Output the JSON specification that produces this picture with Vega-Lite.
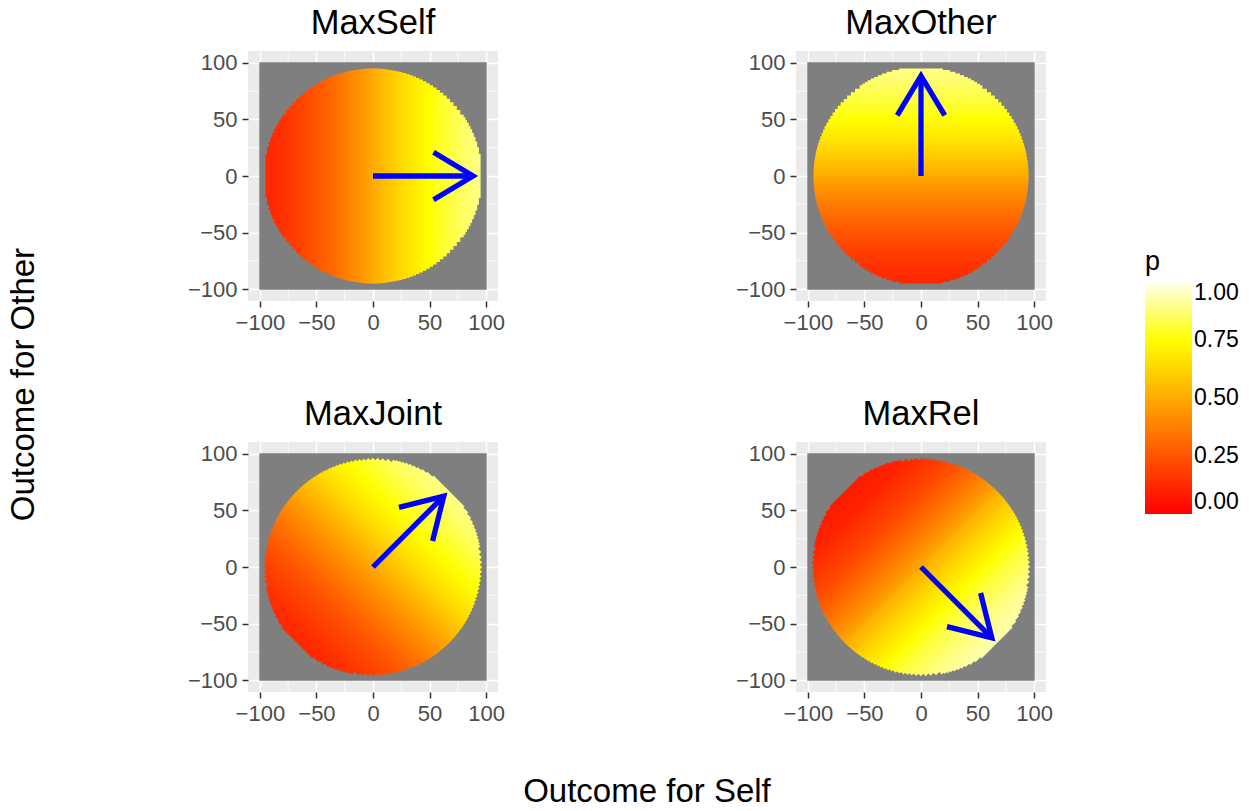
{
  "$schema": "https://vega.github.io/schema/vega-lite/v6.json",
  "padding": {"left": 8, "top": 6, "right": 8, "bottom": 4},
  "title": {"text": "Outcome for Other", "orient": "left", "anchor": "middle", "frame": "bounds", "fontSize": 33, "offset": 146, "dx": 23},
  "datasets": {
    "minor": [{"v": -75}, {"v": -25}, {"v": 25}, {"v": 75}],
    "frame": [{"x": -100.5, "y": -100.5, "x2": 100.5, "y2": 100.5}],
    "axisChords": [
      {"t": 0, "lo": -95, "hi": 95, "p": 0.5},
      {"t": 3, "lo": -94.95, "hi": 94.95, "p": 0.516}, {"t": -3, "lo": -94.95, "hi": 94.95, "p": 0.484},
      {"t": 6, "lo": -94.81, "hi": 94.81, "p": 0.533}, {"t": -6, "lo": -94.81, "hi": 94.81, "p": 0.467},
      {"t": 9, "lo": -94.57, "hi": 94.57, "p": 0.549}, {"t": -9, "lo": -94.57, "hi": 94.57, "p": 0.451},
      {"t": 12, "lo": -94.24, "hi": 94.24, "p": 0.565}, {"t": -12, "lo": -94.24, "hi": 94.24, "p": 0.435},
      {"t": 15, "lo": -93.81, "hi": 93.81, "p": 0.581}, {"t": -15, "lo": -93.81, "hi": 93.81, "p": 0.419},
      {"t": 18, "lo": -93.28, "hi": 93.28, "p": 0.597}, {"t": -18, "lo": -93.28, "hi": 93.28, "p": 0.403},
      {"t": 21, "lo": -92.65, "hi": 92.65, "p": 0.612}, {"t": -21, "lo": -92.65, "hi": 92.65, "p": 0.388},
      {"t": 24, "lo": -91.92, "hi": 91.92, "p": 0.628}, {"t": -24, "lo": -91.92, "hi": 91.92, "p": 0.372},
      {"t": 27, "lo": -91.08, "hi": 91.08, "p": 0.643}, {"t": -27, "lo": -91.08, "hi": 91.08, "p": 0.357},
      {"t": 30, "lo": -90.14, "hi": 90.14, "p": 0.658}, {"t": -30, "lo": -90.14, "hi": 90.14, "p": 0.342},
      {"t": 33, "lo": -89.08, "hi": 89.08, "p": 0.672}, {"t": -33, "lo": -89.08, "hi": 89.08, "p": 0.328},
      {"t": 36, "lo": -87.91, "hi": 87.91, "p": 0.686}, {"t": -36, "lo": -87.91, "hi": 87.91, "p": 0.314},
      {"t": 39, "lo": -86.63, "hi": 86.63, "p": 0.7}, {"t": -39, "lo": -86.63, "hi": 86.63, "p": 0.3},
      {"t": 42, "lo": -85.21, "hi": 85.21, "p": 0.714}, {"t": -42, "lo": -85.21, "hi": 85.21, "p": 0.286},
      {"t": 45, "lo": -83.67, "hi": 83.67, "p": 0.727}, {"t": -45, "lo": -83.67, "hi": 83.67, "p": 0.273},
      {"t": 48, "lo": -81.98, "hi": 81.98, "p": 0.74}, {"t": -48, "lo": -81.98, "hi": 81.98, "p": 0.26},
      {"t": 51, "lo": -80.15, "hi": 80.15, "p": 0.752}, {"t": -51, "lo": -80.15, "hi": 80.15, "p": 0.248},
      {"t": 54, "lo": -78.16, "hi": 78.16, "p": 0.764}, {"t": -54, "lo": -78.16, "hi": 78.16, "p": 0.236},
      {"t": 57, "lo": -76, "hi": 76, "p": 0.776}, {"t": -57, "lo": -76, "hi": 76, "p": 0.224},
      {"t": 60, "lo": -73.65, "hi": 73.65, "p": 0.787}, {"t": -60, "lo": -73.65, "hi": 73.65, "p": 0.213},
      {"t": 63, "lo": -71.11, "hi": 71.11, "p": 0.797}, {"t": -63, "lo": -71.11, "hi": 71.11, "p": 0.203},
      {"t": 66, "lo": -68.33, "hi": 68.33, "p": 0.808}, {"t": -66, "lo": -68.33, "hi": 68.33, "p": 0.192},
      {"t": 69, "lo": -65.3, "hi": 65.3, "p": 0.818}, {"t": -69, "lo": -65.3, "hi": 65.3, "p": 0.182},
      {"t": 72, "lo": -61.98, "hi": 61.98, "p": 0.827}, {"t": -72, "lo": -61.98, "hi": 61.98, "p": 0.173},
      {"t": 75, "lo": -58.31, "hi": 58.31, "p": 0.836}, {"t": -75, "lo": -58.31, "hi": 58.31, "p": 0.164},
      {"t": 78, "lo": -54.23, "hi": 54.23, "p": 0.845}, {"t": -78, "lo": -54.23, "hi": 54.23, "p": 0.155},
      {"t": 79.5, "lo": -52.01, "hi": 52.01, "p": 0.849}, {"t": -79.5, "lo": -52.01, "hi": 52.01, "p": 0.151},
      {"t": 81, "lo": -49.64, "hi": 49.64, "p": 0.853}, {"t": -81, "lo": -49.64, "hi": 49.64, "p": 0.147},
      {"t": 82.5, "lo": -47.1, "hi": 47.1, "p": 0.857}, {"t": -82.5, "lo": -47.1, "hi": 47.1, "p": 0.143},
      {"t": 84, "lo": -44.37, "hi": 44.37, "p": 0.861}, {"t": -84, "lo": -44.37, "hi": 44.37, "p": 0.139},
      {"t": 85.5, "lo": -41.41, "hi": 41.41, "p": 0.865}, {"t": -85.5, "lo": -41.41, "hi": 41.41, "p": 0.135},
      {"t": 87, "lo": -38.16, "hi": 38.16, "p": 0.869}, {"t": -87, "lo": -38.16, "hi": 38.16, "p": 0.131},
      {"t": 88.5, "lo": -34.54, "hi": 34.54, "p": 0.873}, {"t": -88.5, "lo": -34.54, "hi": 34.54, "p": 0.127},
      {"t": 90, "lo": -30.41, "hi": 30.41, "p": 0.876}, {"t": -90, "lo": -30.41, "hi": 30.41, "p": 0.124},
      {"t": 91.5, "lo": -25.55, "hi": 25.55, "p": 0.88}, {"t": -91.5, "lo": -25.55, "hi": 25.55, "p": 0.12},
      {"t": 93, "lo": -19.39, "hi": 19.39, "p": 0.883}, {"t": -93, "lo": -19.39, "hi": 19.39, "p": 0.117}
    ],
    "jointChords": [
      {"x": -67.18, "y": 67.18, "x2": 67.18, "y2": -67.18, "p": 0.5},
      {"x": -65.02, "y": 69.26, "x2": 69.26, "y2": -65.02, "p": 0.516}, {"x": -69.26, "y": 65.02, "x2": 65.02, "y2": -69.26, "p": 0.484},
      {"x": -62.8, "y": 71.28, "x2": 71.28, "y2": -62.8, "p": 0.533}, {"x": -71.28, "y": 62.8, "x2": 62.8, "y2": -71.28, "p": 0.467},
      {"x": -60.51, "y": 73.24, "x2": 73.24, "y2": -60.51, "p": 0.549}, {"x": -73.24, "y": 60.51, "x2": 60.51, "y2": -73.24, "p": 0.451},
      {"x": -58.15, "y": 75.12, "x2": 75.12, "y2": -58.15, "p": 0.565}, {"x": -75.12, "y": 58.15, "x2": 58.15, "y2": -75.12, "p": 0.435},
      {"x": -55.73, "y": 76.94, "x2": 76.94, "y2": -55.73, "p": 0.581}, {"x": -76.94, "y": 55.73, "x2": 55.73, "y2": -76.94, "p": 0.419},
      {"x": -53.23, "y": 78.69, "x2": 78.69, "y2": -53.23, "p": 0.597}, {"x": -78.69, "y": 53.23, "x2": 53.23, "y2": -78.69, "p": 0.403},
      {"x": -50.66, "y": 80.36, "x2": 80.36, "y2": -50.66, "p": 0.612}, {"x": -80.36, "y": 50.66, "x2": 50.66, "y2": -80.36, "p": 0.388},
      {"x": -48.03, "y": 81.97, "x2": 81.97, "y2": -48.03, "p": 0.628}, {"x": -81.97, "y": 48.03, "x2": 48.03, "y2": -81.97, "p": 0.372},
      {"x": -45.31, "y": 83.5, "x2": 83.5, "y2": -45.31, "p": 0.643}, {"x": -83.5, "y": 45.31, "x2": 45.31, "y2": -83.5, "p": 0.357},
      {"x": -42.53, "y": 84.95, "x2": 84.95, "y2": -42.53, "p": 0.658}, {"x": -84.95, "y": 42.53, "x2": 42.53, "y2": -84.95, "p": 0.342},
      {"x": -39.65, "y": 86.32, "x2": 86.32, "y2": -39.65, "p": 0.672}, {"x": -86.32, "y": 39.65, "x2": 39.65, "y2": -86.32, "p": 0.328},
      {"x": -36.71, "y": 87.62, "x2": 87.62, "y2": -36.71, "p": 0.686}, {"x": -87.62, "y": 36.71, "x2": 36.71, "y2": -87.62, "p": 0.314},
      {"x": -33.68, "y": 88.83, "x2": 88.83, "y2": -33.68, "p": 0.7}, {"x": -88.83, "y": 33.68, "x2": 33.68, "y2": -88.83, "p": 0.3},
      {"x": -30.55, "y": 89.95, "x2": 89.95, "y2": -30.55, "p": 0.714}, {"x": -89.95, "y": 30.55, "x2": 30.55, "y2": -89.95, "p": 0.286},
      {"x": -27.34, "y": 90.98, "x2": 90.98, "y2": -27.34, "p": 0.727}, {"x": -90.98, "y": 27.34, "x2": 27.34, "y2": -90.98, "p": 0.273},
      {"x": -24.03, "y": 91.91, "x2": 91.91, "y2": -24.03, "p": 0.74}, {"x": -91.91, "y": 24.03, "x2": 24.03, "y2": -91.91, "p": 0.26},
      {"x": -20.61, "y": 92.74, "x2": 92.74, "y2": -20.61, "p": 0.752}, {"x": -92.74, "y": 20.61, "x2": 20.61, "y2": -92.74, "p": 0.248},
      {"x": -17.08, "y": 93.45, "x2": 93.45, "y2": -17.08, "p": 0.764}, {"x": -93.45, "y": 17.08, "x2": 17.08, "y2": -93.45, "p": 0.236},
      {"x": -13.44, "y": 94.05, "x2": 94.05, "y2": -13.44, "p": 0.776}, {"x": -94.05, "y": 13.44, "x2": 13.44, "y2": -94.05, "p": 0.224},
      {"x": -9.65, "y": 94.5, "x2": 94.5, "y2": -9.65, "p": 0.787}, {"x": -94.5, "y": 9.65, "x2": 9.65, "y2": -94.5, "p": 0.213},
      {"x": -5.73, "y": 94.83, "x2": 94.83, "y2": -5.73, "p": 0.797}, {"x": -94.83, "y": 5.73, "x2": 5.73, "y2": -94.83, "p": 0.203},
      {"x": -1.65, "y": 94.99, "x2": 94.99, "y2": -1.65, "p": 0.808}, {"x": -94.99, "y": 1.65, "x2": 1.65, "y2": -94.99, "p": 0.192},
      {"x": 2.62, "y": 94.97, "x2": 94.97, "y2": 2.62, "p": 0.818}, {"x": -94.97, "y": -2.62, "x2": -2.62, "y2": -94.97, "p": 0.182},
      {"x": 7.09, "y": 94.74, "x2": 94.74, "y2": 7.09, "p": 0.827}, {"x": -94.74, "y": -7.09, "x2": -7.09, "y2": -94.74, "p": 0.173},
      {"x": 11.8, "y": 94.26, "x2": 94.26, "y2": 11.8, "p": 0.836}, {"x": -94.26, "y": -11.8, "x2": -11.8, "y2": -94.26, "p": 0.164},
      {"x": 16.81, "y": 93.5, "x2": 93.5, "y2": 16.81, "p": 0.845}, {"x": -93.5, "y": -16.81, "x2": -16.81, "y2": -93.5, "p": 0.155},
      {"x": 19.44, "y": 92.99, "x2": 92.99, "y2": 19.44, "p": 0.849}, {"x": -92.99, "y": -19.44, "x2": -19.44, "y2": -92.99, "p": 0.151},
      {"x": 22.17, "y": 92.38, "x2": 92.38, "y2": 22.17, "p": 0.853}, {"x": -92.38, "y": -22.17, "x2": -22.17, "y2": -92.38, "p": 0.147},
      {"x": 25.03, "y": 91.64, "x2": 91.64, "y2": 25.03, "p": 0.857}, {"x": -91.64, "y": -25.03, "x2": -25.03, "y2": -91.64, "p": 0.143},
      {"x": 28.02, "y": 90.77, "x2": 90.77, "y2": 28.02, "p": 0.861}, {"x": -90.77, "y": -28.02, "x2": -28.02, "y2": -90.77, "p": 0.139},
      {"x": 31.18, "y": 89.74, "x2": 89.74, "y2": 31.18, "p": 0.865}, {"x": -89.74, "y": -31.18, "x2": -31.18, "y2": -89.74, "p": 0.135},
      {"x": 34.54, "y": 88.5, "x2": 88.5, "y2": 34.54, "p": 0.869}, {"x": -88.5, "y": -34.54, "x2": -34.54, "y2": -88.5, "p": 0.131},
      {"x": 38.16, "y": 87, "x2": 87, "y2": 38.16, "p": 0.873}, {"x": -87, "y": -38.16, "x2": -38.16, "y2": -87, "p": 0.127},
      {"x": 42.14, "y": 85.14, "x2": 85.14, "y2": 42.14, "p": 0.876}, {"x": -85.14, "y": -42.14, "x2": -42.14, "y2": -85.14, "p": 0.124},
      {"x": 46.63, "y": 82.77, "x2": 82.77, "y2": 46.63, "p": 0.88}, {"x": -82.77, "y": -46.63, "x2": -46.63, "y2": -82.77, "p": 0.12},
      {"x": 52.05, "y": 79.47, "x2": 79.47, "y2": 52.05, "p": 0.883}, {"x": -79.47, "y": -52.05, "x2": -52.05, "y2": -79.47, "p": 0.117}
    ],
    "relChords": [
      {"x": -67.18, "y": -67.18, "x2": 67.18, "y2": 67.18, "p": 0.5},
      {"x": -65.02, "y": -69.26, "x2": 69.26, "y2": 65.02, "p": 0.52}, {"x": -69.26, "y": -65.02, "x2": 65.02, "y2": 69.26, "p": 0.48},
      {"x": -62.8, "y": -71.28, "x2": 71.28, "y2": 62.8, "p": 0.541}, {"x": -71.28, "y": -62.8, "x2": 62.8, "y2": 71.28, "p": 0.459},
      {"x": -60.51, "y": -73.24, "x2": 73.24, "y2": 60.51, "p": 0.561}, {"x": -73.24, "y": -60.51, "x2": 60.51, "y2": 73.24, "p": 0.439},
      {"x": -58.15, "y": -75.12, "x2": 75.12, "y2": 58.15, "p": 0.58}, {"x": -75.12, "y": -58.15, "x2": 58.15, "y2": 75.12, "p": 0.42},
      {"x": -55.73, "y": -76.94, "x2": 76.94, "y2": 55.73, "p": 0.6}, {"x": -76.94, "y": -55.73, "x2": 55.73, "y2": 76.94, "p": 0.4},
      {"x": -53.23, "y": -78.69, "x2": 78.69, "y2": 53.23, "p": 0.619}, {"x": -78.69, "y": -53.23, "x2": 53.23, "y2": 78.69, "p": 0.381},
      {"x": -50.66, "y": -80.36, "x2": 80.36, "y2": 50.66, "p": 0.638}, {"x": -80.36, "y": -50.66, "x2": 50.66, "y2": 80.36, "p": 0.362},
      {"x": -48.03, "y": -81.97, "x2": 81.97, "y2": 48.03, "p": 0.657}, {"x": -81.97, "y": -48.03, "x2": 48.03, "y2": 81.97, "p": 0.343},
      {"x": -45.31, "y": -83.5, "x2": 83.5, "y2": 45.31, "p": 0.675}, {"x": -83.5, "y": -45.31, "x2": 45.31, "y2": 83.5, "p": 0.325},
      {"x": -42.53, "y": -84.95, "x2": 84.95, "y2": 42.53, "p": 0.692}, {"x": -84.95, "y": -42.53, "x2": 42.53, "y2": 84.95, "p": 0.308},
      {"x": -39.65, "y": -86.32, "x2": 86.32, "y2": 39.65, "p": 0.709}, {"x": -86.32, "y": -39.65, "x2": 39.65, "y2": 86.32, "p": 0.291},
      {"x": -36.71, "y": -87.62, "x2": 87.62, "y2": 36.71, "p": 0.726}, {"x": -87.62, "y": -36.71, "x2": 36.71, "y2": 87.62, "p": 0.274},
      {"x": -33.68, "y": -88.83, "x2": 88.83, "y2": 33.68, "p": 0.742}, {"x": -88.83, "y": -33.68, "x2": 33.68, "y2": 88.83, "p": 0.258},
      {"x": -30.55, "y": -89.95, "x2": 89.95, "y2": 30.55, "p": 0.757}, {"x": -89.95, "y": -30.55, "x2": 30.55, "y2": 89.95, "p": 0.243},
      {"x": -27.34, "y": -90.98, "x2": 90.98, "y2": 27.34, "p": 0.771}, {"x": -90.98, "y": -27.34, "x2": 27.34, "y2": 90.98, "p": 0.229},
      {"x": -24.03, "y": -91.91, "x2": 91.91, "y2": 24.03, "p": 0.785}, {"x": -91.91, "y": -24.03, "x2": 24.03, "y2": 91.91, "p": 0.215},
      {"x": -20.61, "y": -92.74, "x2": 92.74, "y2": 20.61, "p": 0.799}, {"x": -92.74, "y": -20.61, "x2": 20.61, "y2": 92.74, "p": 0.201},
      {"x": -17.08, "y": -93.45, "x2": 93.45, "y2": 17.08, "p": 0.811}, {"x": -93.45, "y": -17.08, "x2": 17.08, "y2": 93.45, "p": 0.189},
      {"x": -13.44, "y": -94.05, "x2": 94.05, "y2": 13.44, "p": 0.824}, {"x": -94.05, "y": -13.44, "x2": 13.44, "y2": 94.05, "p": 0.176},
      {"x": -9.65, "y": -94.5, "x2": 94.5, "y2": 9.65, "p": 0.835}, {"x": -94.5, "y": -9.65, "x2": 9.65, "y2": 94.5, "p": 0.165},
      {"x": -5.73, "y": -94.83, "x2": 94.83, "y2": 5.73, "p": 0.846}, {"x": -94.83, "y": -5.73, "x2": 5.73, "y2": 94.83, "p": 0.154},
      {"x": -1.65, "y": -94.99, "x2": 94.99, "y2": 1.65, "p": 0.856}, {"x": -94.99, "y": -1.65, "x2": 1.65, "y2": 94.99, "p": 0.144},
      {"x": 2.62, "y": -94.97, "x2": 94.97, "y2": -2.62, "p": 0.866}, {"x": -94.97, "y": 2.62, "x2": -2.62, "y2": 94.97, "p": 0.134},
      {"x": 7.09, "y": -94.74, "x2": 94.74, "y2": -7.09, "p": 0.875}, {"x": -94.74, "y": 7.09, "x2": -7.09, "y2": 94.74, "p": 0.125},
      {"x": 11.8, "y": -94.26, "x2": 94.26, "y2": -11.8, "p": 0.884}, {"x": -94.26, "y": 11.8, "x2": -11.8, "y2": 94.26, "p": 0.116},
      {"x": 16.81, "y": -93.5, "x2": 93.5, "y2": -16.81, "p": 0.892}, {"x": -93.5, "y": 16.81, "x2": -16.81, "y2": 93.5, "p": 0.108},
      {"x": 19.44, "y": -92.99, "x2": 92.99, "y2": -19.44, "p": 0.896}, {"x": -92.99, "y": 19.44, "x2": -19.44, "y2": 92.99, "p": 0.104},
      {"x": 22.17, "y": -92.38, "x2": 92.38, "y2": -22.17, "p": 0.899}, {"x": -92.38, "y": 22.17, "x2": -22.17, "y2": 92.38, "p": 0.101},
      {"x": 25.03, "y": -91.64, "x2": 91.64, "y2": -25.03, "p": 0.903}, {"x": -91.64, "y": 25.03, "x2": -25.03, "y2": 91.64, "p": 0.097},
      {"x": 28.02, "y": -90.77, "x2": 90.77, "y2": -28.02, "p": 0.906}, {"x": -90.77, "y": 28.02, "x2": -28.02, "y2": 90.77, "p": 0.094},
      {"x": 31.18, "y": -89.74, "x2": 89.74, "y2": -31.18, "p": 0.91}, {"x": -89.74, "y": 31.18, "x2": -31.18, "y2": 89.74, "p": 0.09},
      {"x": 34.54, "y": -88.5, "x2": 88.5, "y2": -34.54, "p": 0.913}, {"x": -88.5, "y": 34.54, "x2": -34.54, "y2": 88.5, "p": 0.087},
      {"x": 38.16, "y": -87, "x2": 87, "y2": -38.16, "p": 0.916}, {"x": -87, "y": 38.16, "x2": -38.16, "y2": 87, "p": 0.084},
      {"x": 42.14, "y": -85.14, "x2": 85.14, "y2": -42.14, "p": 0.919}, {"x": -85.14, "y": 42.14, "x2": -42.14, "y2": 85.14, "p": 0.081},
      {"x": 46.63, "y": -82.77, "x2": 82.77, "y2": -46.63, "p": 0.922}, {"x": -82.77, "y": 46.63, "x2": -46.63, "y2": 82.77, "p": 0.078},
      {"x": 52.05, "y": -79.47, "x2": 79.47, "y2": -52.05, "p": 0.925}, {"x": -79.47, "y": 52.05, "x2": -52.05, "y2": 79.47, "p": 0.075}
    ],
    "arrowSelf": [
      {"part": "shaft", "o": 1, "x": 0, "y": 0}, {"part": "shaft", "o": 2, "x": 88.5, "y": 0},
      {"part": "head", "o": 1, "x": 53.5, "y": 21}, {"part": "head", "o": 2, "x": 88.5, "y": 0}, {"part": "head", "o": 3, "x": 53.5, "y": -21}
    ],
    "arrowOther": [
      {"part": "shaft", "o": 1, "x": 0, "y": 0}, {"part": "shaft", "o": 2, "x": 0, "y": 88.5},
      {"part": "head", "o": 1, "x": -21, "y": 53.5}, {"part": "head", "o": 2, "x": 0, "y": 88.5}, {"part": "head", "o": 3, "x": 21, "y": 53.5}
    ],
    "arrowJoint": [
      {"part": "shaft", "o": 1, "x": 0, "y": 0}, {"part": "shaft", "o": 2, "x": 62.58, "y": 62.58},
      {"part": "head", "o": 1, "x": 22.98, "y": 52.68}, {"part": "head", "o": 2, "x": 62.58, "y": 62.58}, {"part": "head", "o": 3, "x": 52.68, "y": 22.98}
    ],
    "arrowRel": [
      {"part": "shaft", "o": 1, "x": 0, "y": 0}, {"part": "shaft", "o": 2, "x": 62.58, "y": -62.58},
      {"part": "head", "o": 1, "x": 52.68, "y": -22.98}, {"part": "head", "o": 2, "x": 62.58, "y": -62.58}, {"part": "head", "o": 3, "x": 22.98, "y": -52.68}
    ]
  },
  "vconcat": [
    {
      "title": {"text": "Outcome for Self", "orient": "bottom", "anchor": "middle", "frame": "bounds", "fontSize": 33, "offset": 52, "dx": 27},
      "spacing": 64,
      "vconcat": [
        {
          "spacing": 230,
          "hconcat": [
            {
              "title": "MaxSelf", "width": 250, "height": 250,
              "layer": [
                {"data": {"name": "minor"}, "mark": {"type": "rule", "color": "#FFFFFF", "strokeWidth": 0.75},
                 "encoding": {"x": {"field": "v", "type": "quantitative", "scale": {"domain": [-110.5, 110.5], "nice": false, "zero": false}, "axis": {"values": [-100, -50, 0, 50, 100], "title": null}}}},
                {"data": {"name": "minor"}, "mark": {"type": "rule", "color": "#FFFFFF", "strokeWidth": 0.75},
                 "encoding": {"y": {"field": "v", "type": "quantitative", "scale": {"domain": [-110.5, 110.5], "nice": false, "zero": false}, "axis": {"values": [-100, -50, 0, 50, 100], "title": null}}}},
                {"data": {"name": "frame"}, "mark": {"type": "rect", "color": "#7F7F7F"},
                 "encoding": {
                   "x": {"field": "x", "type": "quantitative", "scale": {"domain": [-110.5, 110.5], "nice": false, "zero": false}, "axis": {"values": [-100, -50, 0, 50, 100], "title": null}},
                   "x2": {"field": "x2"},
                   "y": {"field": "y", "type": "quantitative", "scale": {"domain": [-110.5, 110.5], "nice": false, "zero": false}, "axis": {"values": [-100, -50, 0, 50, 100], "title": null}},
                   "y2": {"field": "y2"}}},
                {"data": {"name": "axisChords"}, "mark": {"type": "rule", "strokeWidth": 4.8, "strokeCap": "butt"},
                 "encoding": {
                   "x": {"field": "t", "type": "quantitative", "scale": {"domain": [-110.5, 110.5], "nice": false, "zero": false}, "axis": {"values": [-100, -50, 0, 50, 100], "title": null}},
                   "y": {"field": "lo", "type": "quantitative", "scale": {"domain": [-110.5, 110.5], "nice": false, "zero": false}, "axis": {"values": [-100, -50, 0, 50, 100], "title": null}},
                   "y2": {"field": "hi"},
                   "color": {"field": "p", "type": "quantitative", "scale": {"domain": [0, 0.75, 1], "range": ["#FF0000", "#FFFF00", "#FFFFF0"], "interpolate": "rgb"},
                             "legend": {"title": "p", "values": [0, 0.25, 0.5, 0.75, 1], "format": ".2f", "orient": "none", "legendX": 897, "legendY": 198, "direction": "vertical"}}}},
                {"data": {"name": "arrowSelf"}, "mark": {"type": "line", "color": "#0000FF", "strokeWidth": 5.3, "strokeJoin": "miter", "strokeCap": "butt"},
                 "encoding": {
                   "x": {"field": "x", "type": "quantitative", "scale": {"domain": [-110.5, 110.5], "nice": false, "zero": false}, "axis": {"values": [-100, -50, 0, 50, 100], "title": null}},
                   "y": {"field": "y", "type": "quantitative", "scale": {"domain": [-110.5, 110.5], "nice": false, "zero": false}, "axis": {"values": [-100, -50, 0, 50, 100], "title": null}},
                   "detail": {"field": "part"}, "order": {"field": "o"}}}
              ]
            },
            {
              "title": "MaxOther", "width": 250, "height": 250,
              "layer": [
                {"data": {"name": "minor"}, "mark": {"type": "rule", "color": "#FFFFFF", "strokeWidth": 0.75},
                 "encoding": {"x": {"field": "v", "type": "quantitative", "scale": {"domain": [-110.5, 110.5], "nice": false, "zero": false}, "axis": {"values": [-100, -50, 0, 50, 100], "title": null}}}},
                {"data": {"name": "minor"}, "mark": {"type": "rule", "color": "#FFFFFF", "strokeWidth": 0.75},
                 "encoding": {"y": {"field": "v", "type": "quantitative", "scale": {"domain": [-110.5, 110.5], "nice": false, "zero": false}, "axis": {"values": [-100, -50, 0, 50, 100], "title": null}}}},
                {"data": {"name": "frame"}, "mark": {"type": "rect", "color": "#7F7F7F"},
                 "encoding": {
                   "x": {"field": "x", "type": "quantitative", "scale": {"domain": [-110.5, 110.5], "nice": false, "zero": false}, "axis": {"values": [-100, -50, 0, 50, 100], "title": null}},
                   "x2": {"field": "x2"},
                   "y": {"field": "y", "type": "quantitative", "scale": {"domain": [-110.5, 110.5], "nice": false, "zero": false}, "axis": {"values": [-100, -50, 0, 50, 100], "title": null}},
                   "y2": {"field": "y2"}}},
                {"data": {"name": "axisChords"}, "mark": {"type": "rule", "strokeWidth": 4.8, "strokeCap": "butt"},
                 "encoding": {
                   "y": {"field": "t", "type": "quantitative", "scale": {"domain": [-110.5, 110.5], "nice": false, "zero": false}, "axis": {"values": [-100, -50, 0, 50, 100], "title": null}},
                   "x": {"field": "lo", "type": "quantitative", "scale": {"domain": [-110.5, 110.5], "nice": false, "zero": false}, "axis": {"values": [-100, -50, 0, 50, 100], "title": null}},
                   "x2": {"field": "hi"},
                   "color": {"field": "p", "type": "quantitative", "scale": {"domain": [0, 0.75, 1], "range": ["#FF0000", "#FFFF00", "#FFFFF0"], "interpolate": "rgb"},
                             "legend": {"title": "p", "values": [0, 0.25, 0.5, 0.75, 1], "format": ".2f", "orient": "none", "legendX": 897, "legendY": 198, "direction": "vertical"}}}},
                {"data": {"name": "arrowOther"}, "mark": {"type": "line", "color": "#0000FF", "strokeWidth": 5.3, "strokeJoin": "miter", "strokeCap": "butt"},
                 "encoding": {
                   "x": {"field": "x", "type": "quantitative", "scale": {"domain": [-110.5, 110.5], "nice": false, "zero": false}, "axis": {"values": [-100, -50, 0, 50, 100], "title": null}},
                   "y": {"field": "y", "type": "quantitative", "scale": {"domain": [-110.5, 110.5], "nice": false, "zero": false}, "axis": {"values": [-100, -50, 0, 50, 100], "title": null}},
                   "detail": {"field": "part"}, "order": {"field": "o"}}}
              ]
            }
          ]
        },
        {
          "spacing": 230,
          "hconcat": [
            {
              "title": "MaxJoint", "width": 250, "height": 250,
              "layer": [
                {"data": {"name": "minor"}, "mark": {"type": "rule", "color": "#FFFFFF", "strokeWidth": 0.75},
                 "encoding": {"x": {"field": "v", "type": "quantitative", "scale": {"domain": [-110.5, 110.5], "nice": false, "zero": false}, "axis": {"values": [-100, -50, 0, 50, 100], "title": null}}}},
                {"data": {"name": "minor"}, "mark": {"type": "rule", "color": "#FFFFFF", "strokeWidth": 0.75},
                 "encoding": {"y": {"field": "v", "type": "quantitative", "scale": {"domain": [-110.5, 110.5], "nice": false, "zero": false}, "axis": {"values": [-100, -50, 0, 50, 100], "title": null}}}},
                {"data": {"name": "frame"}, "mark": {"type": "rect", "color": "#7F7F7F"},
                 "encoding": {
                   "x": {"field": "x", "type": "quantitative", "scale": {"domain": [-110.5, 110.5], "nice": false, "zero": false}, "axis": {"values": [-100, -50, 0, 50, 100], "title": null}},
                   "x2": {"field": "x2"},
                   "y": {"field": "y", "type": "quantitative", "scale": {"domain": [-110.5, 110.5], "nice": false, "zero": false}, "axis": {"values": [-100, -50, 0, 50, 100], "title": null}},
                   "y2": {"field": "y2"}}},
                {"data": {"name": "jointChords"}, "mark": {"type": "rule", "strokeWidth": 4.8, "strokeCap": "butt"},
                 "encoding": {
                   "x": {"field": "x", "type": "quantitative", "scale": {"domain": [-110.5, 110.5], "nice": false, "zero": false}, "axis": {"values": [-100, -50, 0, 50, 100], "title": null}},
                   "x2": {"field": "x2"},
                   "y": {"field": "y", "type": "quantitative", "scale": {"domain": [-110.5, 110.5], "nice": false, "zero": false}, "axis": {"values": [-100, -50, 0, 50, 100], "title": null}},
                   "y2": {"field": "y2"},
                   "color": {"field": "p", "type": "quantitative", "scale": {"domain": [0, 0.75, 1], "range": ["#FF0000", "#FFFF00", "#FFFFF0"], "interpolate": "rgb"},
                             "legend": {"title": "p", "values": [0, 0.25, 0.5, 0.75, 1], "format": ".2f", "orient": "none", "legendX": 897, "legendY": 198, "direction": "vertical"}}}},
                {"data": {"name": "arrowJoint"}, "mark": {"type": "line", "color": "#0000FF", "strokeWidth": 5.3, "strokeJoin": "miter", "strokeCap": "butt"},
                 "encoding": {
                   "x": {"field": "x", "type": "quantitative", "scale": {"domain": [-110.5, 110.5], "nice": false, "zero": false}, "axis": {"values": [-100, -50, 0, 50, 100], "title": null}},
                   "y": {"field": "y", "type": "quantitative", "scale": {"domain": [-110.5, 110.5], "nice": false, "zero": false}, "axis": {"values": [-100, -50, 0, 50, 100], "title": null}},
                   "detail": {"field": "part"}, "order": {"field": "o"}}}
              ]
            },
            {
              "title": "MaxRel", "width": 250, "height": 250,
              "layer": [
                {"data": {"name": "minor"}, "mark": {"type": "rule", "color": "#FFFFFF", "strokeWidth": 0.75},
                 "encoding": {"x": {"field": "v", "type": "quantitative", "scale": {"domain": [-110.5, 110.5], "nice": false, "zero": false}, "axis": {"values": [-100, -50, 0, 50, 100], "title": null}}}},
                {"data": {"name": "minor"}, "mark": {"type": "rule", "color": "#FFFFFF", "strokeWidth": 0.75},
                 "encoding": {"y": {"field": "v", "type": "quantitative", "scale": {"domain": [-110.5, 110.5], "nice": false, "zero": false}, "axis": {"values": [-100, -50, 0, 50, 100], "title": null}}}},
                {"data": {"name": "frame"}, "mark": {"type": "rect", "color": "#7F7F7F"},
                 "encoding": {
                   "x": {"field": "x", "type": "quantitative", "scale": {"domain": [-110.5, 110.5], "nice": false, "zero": false}, "axis": {"values": [-100, -50, 0, 50, 100], "title": null}},
                   "x2": {"field": "x2"},
                   "y": {"field": "y", "type": "quantitative", "scale": {"domain": [-110.5, 110.5], "nice": false, "zero": false}, "axis": {"values": [-100, -50, 0, 50, 100], "title": null}},
                   "y2": {"field": "y2"}}},
                {"data": {"name": "relChords"}, "mark": {"type": "rule", "strokeWidth": 4.8, "strokeCap": "butt"},
                 "encoding": {
                   "x": {"field": "x", "type": "quantitative", "scale": {"domain": [-110.5, 110.5], "nice": false, "zero": false}, "axis": {"values": [-100, -50, 0, 50, 100], "title": null}},
                   "x2": {"field": "x2"},
                   "y": {"field": "y", "type": "quantitative", "scale": {"domain": [-110.5, 110.5], "nice": false, "zero": false}, "axis": {"values": [-100, -50, 0, 50, 100], "title": null}},
                   "y2": {"field": "y2"},
                   "color": {"field": "p", "type": "quantitative", "scale": {"domain": [0, 0.75, 1], "range": ["#FF0000", "#FFFF00", "#FFFFF0"], "interpolate": "rgb"},
                             "legend": {"title": "p", "values": [0, 0.25, 0.5, 0.75, 1], "format": ".2f", "orient": "none", "legendX": 897, "legendY": 198, "direction": "vertical"}}}},
                {"data": {"name": "arrowRel"}, "mark": {"type": "line", "color": "#0000FF", "strokeWidth": 5.3, "strokeJoin": "miter", "strokeCap": "butt"},
                 "encoding": {
                   "x": {"field": "x", "type": "quantitative", "scale": {"domain": [-110.5, 110.5], "nice": false, "zero": false}, "axis": {"values": [-100, -50, 0, 50, 100], "title": null}},
                   "y": {"field": "y", "type": "quantitative", "scale": {"domain": [-110.5, 110.5], "nice": false, "zero": false}, "axis": {"values": [-100, -50, 0, 50, 100], "title": null}},
                   "detail": {"field": "part"}, "order": {"field": "o"}}}
              ]
            }
          ]
        }
      ]
    }
  ],
  "config": {
    "font": "Liberation Sans",
    "view": {"fill": "#EBEBEB", "stroke": null},
    "axis": {"domain": false, "grid": true, "gridColor": "#FFFFFF", "gridWidth": 1.5, "tickColor": "#333333", "tickWidth": 1.5, "tickSize": 6, "labelColor": "#4D4D4D", "labelFontSize": 22, "labelPadding": 5, "labelOverlap": false, "labelFlush": false},
    "title": {"fontSize": 34.5, "fontWeight": "normal", "color": "#000000", "frame": "group", "anchor": "middle", "offset": 9},
    "legend": {"titleFontSize": 27, "titleFontWeight": "normal", "titleColor": "#000000", "labelFontSize": 23, "labelColor": "#000000", "gradientLength": 232, "gradientThickness": 47, "labelOffset": 6, "titlePadding": 6}
  }
}
